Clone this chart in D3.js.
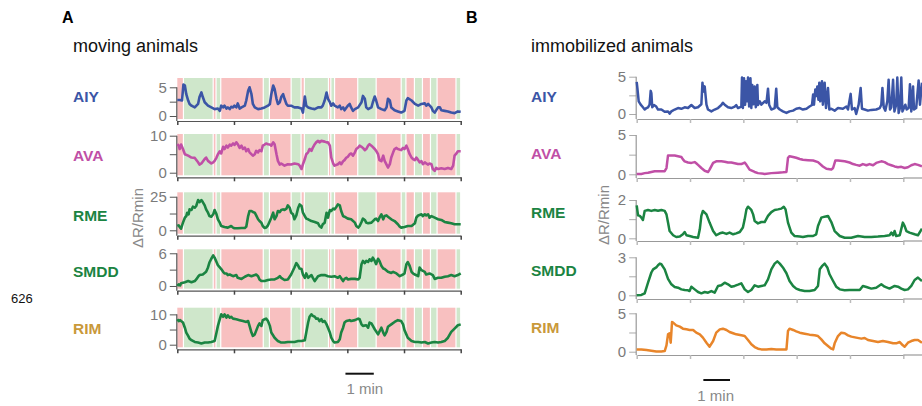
<!DOCTYPE html>
<html>
<head>
<meta charset="utf-8">
<script src="https://cdn.jsdelivr.net/npm/d3@7"></script>
<style>
body { margin: 0; background: #fff; }
text { font-family: "Liberation Sans", Arial, Helvetica, sans-serif; }
</style>
</head>
<body>
<script>
// neurons, one row each
var neurons = ['AIY', 'AVA', 'RME', 'SMDD', 'RIM'];

// y ticks per row (only first and last are labelled)
var yTicksA = [[0, 2.5, 5], [0, 5, 10], [0, 12.5, 25], [0, 3, 6], [0, 5, 10]];
var yTicksB = [[0, 2.5, 5], [0, 2.5, 5], [0, 1, 2], [0, 1.5, 3], [0, 2.5, 5]];

// time ticks (s), every 2 min
var timeTicks = [0, 120, 240, 360, 480, 600];

// behaviour of the moving animal: start time (s) and state, pink = rev, green = fwd
var stateStart = [0, 13, 76, 82, 92, 182, 195, 241, 262, 269, 320, 325, 333, 382, 421, 474, 484, 502, 519, 536, 550, 590];
var stateType = ['rev', 'fwd', 'rev', 'fwd', 'rev', 'fwd', 'rev', 'fwd', 'rev', 'fwd', 'rev',
                 'fwd', 'rev', 'fwd', 'rev', 'fwd', 'rev', 'fwd', 'rev', 'fwd', 'rev', 'fwd'];
var stateEnd = 600;

// moving animals, [t (s), dR/Rmin]
var aiyMoving = [[0,2.8],[5,2.8],[10,2.7],[13,5.5],[16,5.3],[19,3.8],[23,2.7],[26,2.1],[30,1.8],[37,1.5],[44,2.1],[47,3.3],[51,4.1],[54,3.3],[58,2.4],[65,1.8],[72,1.5],[79,1.2],[86,1.3],[90,0.9],[93,1.8],[97,1.5],[100,1.8],[104,1.3],[107,1.5],[111,1.2],[114,1.6],[118,1.5],[121,1.8],[125,1.5],[128,2.2],[132,1.3],[136,1.5],[143,1.8],[146,2.7],[150,4.4],[153,5.0],[157,3.8],[160,2.1],[164,1.5],[171,1.2],[178,1.3],[185,1.5],[192,1.8],[196,2.1],[199,3.8],[203,5.3],[206,4.7],[210,3.0],[213,2.1],[217,2.4],[220,3.3],[224,3.8],[227,3.0],[231,2.1],[234,1.8],[241,1.8],[248,1.5],[256,1.5],[263,1.3],[266,0.6],[270,3.4],[273,1.8],[277,1.5],[284,1.3],[291,1.2],[298,1.5],[305,1.5],[308,1.8],[312,2.7],[316,4.1],[319,3.0],[323,2.4],[326,1.8],[330,2.2],[333,1.8],[340,1.5],[344,1.8],[347,1.2],[351,1.5],[354,1.0],[361,1.8],[365,2.1],[368,1.5],[372,0.9],[376,1.2],[383,1.5],[390,2.4],[393,3.5],[397,3.0],[400,1.5],[404,1.2],[411,1.5],[414,2.4],[418,3.4],[421,2.7],[425,1.5],[432,1.2],[439,1.0],[443,1.5],[446,3.0],[450,2.7],[453,1.5],[460,1.0],[467,0.8],[474,0.6],[481,0.9],[485,2.7],[488,3.1],[496,2.7],[503,2.1],[510,1.8],[517,2.1],[524,2.2],[527,1.8],[531,2.1],[538,1.5],[541,0.9],[545,0.6],[552,1.5],[556,1.5],[559,1.0],[566,0.9],[573,0.8],[580,0.6],[587,0.5],[594,0.8],[600,0.75]];
var avaMoving = [[0,7.7],[3,7.3],[5,6.4],[8,7.6],[12,6.4],[16,5.0],[23,4.6],[30,4.1],[37,4.0],[44,2.8],[47,2.2],[51,2.5],[58,3.7],[61,4.1],[65,3.2],[72,2.5],[76,2.8],[79,3.2],[83,4.1],[86,5.0],[90,5.8],[93,5.2],[97,7.0],[100,6.4],[104,7.3],[107,6.8],[111,7.6],[114,7.3],[118,7.9],[121,7.5],[125,8.2],[128,7.7],[132,6.7],[136,7.3],[139,6.4],[143,6.8],[146,5.8],[150,6.4],[153,5.5],[160,4.6],[164,5.0],[167,5.9],[171,5.5],[174,6.1],[178,5.8],[181,7.3],[185,7.6],[188,7.9],[192,7.7],[196,7.6],[199,7.3],[203,8.2],[206,7.7],[210,5.0],[213,3.2],[217,2.2],[220,2.5],[227,1.9],[234,2.3],[241,2.2],[248,2.5],[256,2.3],[259,1.9],[263,1.0],[266,2.3],[270,3.7],[273,5.0],[277,5.5],[280,6.4],[284,5.9],[287,6.8],[291,7.7],[294,8.2],[298,8.6],[301,8.2],[305,8.6],[312,8.4],[316,8.2],[319,8.2],[323,7.3],[326,4.1],[330,2.5],[333,1.9],[340,2.3],[344,2.8],[347,2.3],[351,3.1],[354,3.4],[358,4.1],[361,4.3],[365,5.0],[368,5.2],[372,4.6],[376,5.5],[379,6.4],[383,6.8],[386,7.3],[390,7.0],[393,6.7],[397,6.1],[400,6.4],[404,7.3],[407,7.7],[411,7.3],[418,6.4],[421,5.9],[425,5.0],[428,3.4],[432,3.1],[436,4.6],[439,3.2],[443,2.2],[446,1.4],[450,2.3],[453,4.1],[457,5.5],[460,6.4],[464,6.7],[467,6.4],[474,6.1],[478,6.7],[481,6.4],[485,7.3],[488,6.4],[492,5.0],[496,4.1],[499,3.7],[503,3.4],[506,4.1],[510,3.4],[513,2.8],[517,3.1],[520,2.3],[524,2.8],[527,2.5],[531,2.2],[534,2.5],[538,2.3],[541,1.0],[545,0.5],[548,1.3],[552,1.0],[559,1.2],[566,1.0],[573,1.3],[580,1.0],[584,1.9],[587,4.6],[591,5.2],[594,5.8],[600,5.8]];
var rmeMoving = [[0,3.2],[3,3.7],[6,2.0],[8,1.2],[12,5.7],[16,9.4],[19,10.6],[21,13.1],[24,11.9],[26,15.6],[30,15.1],[33,17.6],[37,16.8],[40,18.1],[44,22.5],[47,21.0],[51,22.5],[54,21.0],[58,18.6],[61,15.6],[65,13.1],[68,10.6],[72,10.1],[76,11.9],[79,15.1],[83,11.9],[86,8.2],[90,5.7],[93,3.2],[100,2.5],[107,2.0],[114,3.2],[118,2.0],[121,1.5],[128,1.5],[136,1.7],[143,1.7],[146,2.7],[150,10.6],[153,14.4],[157,14.4],[160,13.6],[164,13.1],[167,11.1],[171,8.2],[174,6.9],[178,5.7],[181,3.2],[185,1.7],[188,2.0],[192,3.7],[196,6.9],[199,9.4],[203,13.1],[206,8.2],[210,10.6],[213,14.4],[217,13.6],[220,15.1],[224,15.6],[227,15.1],[231,16.1],[234,18.6],[238,16.8],[241,13.1],[245,11.9],[248,8.2],[252,11.1],[256,16.8],[259,19.3],[263,18.1],[266,13.1],[270,10.6],[273,8.7],[277,8.2],[284,6.9],[291,6.2],[298,5.2],[301,3.2],[305,2.0],[308,4.5],[312,5.7],[316,13.1],[319,9.4],[323,15.1],[326,14.4],[330,16.1],[333,15.6],[337,17.6],[340,19.3],[344,18.6],[347,14.4],[351,10.6],[354,10.1],[361,8.7],[368,8.2],[376,5.7],[379,3.2],[383,2.0],[386,3.2],[390,6.2],[393,8.7],[397,7.7],[400,5.7],[404,5.2],[411,5.7],[418,8.2],[421,8.7],[425,6.9],[428,9.4],[432,11.9],[436,8.2],[439,10.6],[443,11.1],[446,10.1],[453,8.2],[460,6.9],[467,4.5],[471,2.7],[474,2.0],[481,2.5],[488,3.2],[496,3.2],[503,5.2],[506,9.4],[510,11.1],[517,11.9],[520,10.6],[524,11.9],[527,11.1],[531,11.9],[534,9.4],[538,10.6],[545,9.4],[552,8.2],[559,7.7],[566,6.2],[573,5.7],[580,5.2],[587,4.5],[594,4.5],[600,4.5]];
var smddMoving = [[0,0.0],[3,0.3],[6,0.1],[8,0.5],[16,0.7],[23,0.9],[30,0.7],[37,0.9],[40,1.2],[44,1.7],[47,2.0],[54,2.1],[61,2.6],[65,3.4],[68,4.3],[72,5.0],[76,5.6],[79,5.2],[83,4.4],[86,3.8],[90,3.4],[93,3.1],[97,2.6],[100,2.3],[104,2.3],[107,2.0],[111,2.1],[118,1.8],[125,2.0],[128,1.5],[136,1.3],[143,1.7],[150,2.0],[157,1.8],[164,2.0],[167,2.1],[171,1.8],[174,1.2],[178,0.9],[185,0.9],[192,1.1],[199,1.2],[206,1.2],[213,1.5],[217,1.8],[220,1.5],[227,1.1],[234,1.2],[241,2.1],[248,3.4],[252,4.2],[256,3.7],[259,3.2],[263,3.1],[266,2.1],[270,1.5],[273,2.3],[277,1.5],[284,2.0],[287,1.5],[291,0.9],[298,1.8],[305,2.0],[312,2.0],[319,1.8],[326,1.7],[333,1.8],[340,1.5],[344,1.8],[351,0.9],[354,1.3],[358,1.5],[361,1.2],[368,1.3],[376,1.3],[383,1.2],[386,1.5],[390,4.0],[393,4.6],[397,4.2],[400,4.6],[404,4.4],[407,4.9],[411,4.6],[414,5.2],[418,4.6],[421,4.0],[425,5.0],[428,4.6],[432,3.7],[436,3.2],[439,3.1],[446,2.6],[453,2.4],[457,2.6],[464,2.3],[471,1.8],[478,2.1],[481,2.3],[485,4.0],[488,4.4],[492,3.7],[496,2.6],[499,2.3],[503,2.1],[510,1.8],[513,3.4],[517,2.9],[524,2.6],[527,2.1],[534,2.3],[541,2.0],[545,1.3],[552,1.5],[559,1.5],[566,1.7],[573,1.8],[580,2.0],[587,1.8],[594,2.0],[600,2.3]];
var rimMoving = [[0,8.4],[3,7.8],[6,8.1],[8,7.8],[12,7.3],[16,5.6],[19,4.0],[23,2.9],[26,2.0],[30,1.5],[37,0.9],[44,0.7],[51,0.4],[58,0.7],[65,0.7],[72,0.9],[79,1.2],[83,4.0],[86,6.2],[90,8.4],[93,10.0],[97,9.2],[100,10.0],[104,8.9],[107,9.7],[111,8.9],[114,9.2],[118,8.6],[125,8.4],[132,8.1],[139,7.8],[146,7.5],[150,7.8],[153,6.2],[157,4.0],[160,2.9],[164,3.4],[171,6.2],[174,7.0],[178,6.2],[181,8.1],[185,8.4],[188,8.6],[192,7.8],[196,6.2],[199,4.0],[206,2.3],[213,1.2],[220,0.7],[227,0.7],[234,0.9],[241,0.9],[248,0.9],[256,1.2],[263,1.2],[270,1.5],[273,4.0],[277,7.3],[280,9.2],[284,10.0],[287,9.5],[291,9.2],[294,8.6],[298,8.6],[301,7.8],[305,8.4],[308,7.5],[312,7.8],[316,6.7],[319,5.6],[323,4.0],[326,2.3],[330,1.2],[333,0.7],[340,0.9],[344,1.8],[347,4.0],[351,5.6],[354,7.3],[358,7.8],[365,8.1],[368,7.8],[376,8.1],[383,8.6],[386,8.4],[390,6.7],[393,6.2],[400,6.4],[404,5.6],[407,7.3],[411,7.0],[418,5.1],[425,3.4],[432,5.6],[436,4.0],[439,3.1],[443,4.2],[446,5.9],[453,6.7],[460,7.5],[467,8.1],[474,7.8],[478,6.7],[481,4.8],[488,2.3],[496,1.2],[503,0.9],[510,0.9],[517,0.7],[524,0.9],[531,0.4],[538,0.7],[545,0.9],[552,0.7],[559,0.9],[566,1.2],[573,2.3],[580,4.2],[587,5.3],[594,6.4],[600,6.7]];

// immobilized animals, [t (s), dR/Rmin]
var aiyImmob = [[0,4.3],[1.5,3.5],[4.5,1.7],[9,1.25],[14,0.9],[18,0.6],[22,0.8],[25.5,0.9],[29,1.25],[31.5,3.1],[33,2.8],[35,0.9],[39,1.2],[44,1.0],[48,0.6],[55.5,0.6],[63,0.3],[70.5,0.35],[74,0.05],[78,0.35],[85.5,0.6],[93,0.8],[100.5,0.7],[108,0.9],[115.5,0.8],[123,1.2],[130.5,0.8],[138,0.9],[145.5,1.3],[148,4.2],[150,3.0],[153,3.7],[157,1.25],[160.5,0.6],[168,0.35],[175.5,0.6],[183,0.8],[190.5,1.2],[194,1.5],[198,1.25],[205.5,0.9],[213,0.8],[220.5,1.0],[224,1.2],[228,0.8],[235.5,1.0],[237,4.9],[239,0.8],[241.5,4.8],[244,1.25],[246,4.4],[248,1.7],[250.5,4.9],[253,1.0],[256,4.8],[258,0.8],[260,3.9],[262.5,1.3],[265.5,3.7],[268,0.9],[271.5,3.9],[273,1.2],[277,1.7],[280.5,1.25],[288,1.7],[292,1.5],[295.5,3.4],[298,1.25],[303,0.6],[310.5,0.8],[314,3.4],[316.5,0.9],[322,0.6],[329,0.35],[337,0.15],[344,0.35],[352,0.45],[359,0.7],[367,0.8],[374,0.6],[382,0.7],[389,1.0],[394.5,1.2],[397,2.6],[399,1.25],[402,3.3],[404,2.4],[406.5,3.7],[409,1.9],[411,4.2],[413,1.7],[417,4.4],[419,1.25],[423,4.2],[426,0.8],[430.5,3.5],[433.5,0.6],[438,0.7],[445.5,0.45],[453,0.8],[464,0.7],[472,1.0],[475.5,0.6],[481.5,2.7],[484.5,0.6],[490.5,0.8],[494,0.0],[499.5,1.25],[504,3.5],[507,0.7],[513,0.6],[520.5,0.45],[528,0.55],[539,0.6],[547,0.8],[550.5,1.25],[553,3.5],[556,0.9],[559.5,0.45],[564,1.7],[567,4.6],[570,0.6],[573,0.9],[577,4.6],[580,0.35],[584,1.25],[586.5,4.9],[589.5,0.15],[592.5,0.8],[595.5,4.9],[598,0.35],[601.5,0.8],[604.5,1.25],[607.5,0.6],[612,0.8],[615,4.0],[618,0.35],[622,3.7],[624,0.6],[629,0.8],[634.5,4.5],[637.5,1.25],[642,4.2]];
var avaImmob = [[0,0.05],[10.5,0.05],[18,0.15],[25.5,0.2],[33,0.3],[40.5,0.4],[48,0.4],[55.5,0.4],[63,0.4],[67,0.8],[70.5,2.4],[78,2.4],[85.5,2.4],[93,2.3],[100.5,2.2],[104,1.9],[108,1.65],[115.5,1.5],[123,1.45],[130.5,1.55],[134,1.4],[138,1.2],[145.5,0.8],[153,0.45],[160.5,0.3],[164,0.6],[172,1.45],[179,1.65],[190.5,1.65],[198,1.6],[205.5,1.5],[213,1.5],[220.5,1.4],[228,1.3],[235.5,1.3],[243,1.5],[247,1.2],[254,0.6],[265.5,0.3],[273,0.15],[288,0.05],[303,0.15],[318,0.2],[329,0.25],[337,0.3],[340.5,2.1],[344,2.3],[352,2.2],[359,2.1],[367,1.95],[374,1.85],[385.5,1.8],[397,1.75],[408,1.55],[419,1.0],[427,0.7],[438,0.6],[442,0.8],[447,1.75],[453,1.75],[468,1.65],[479,1.5],[487,1.3],[494,1.2],[502,1.1],[509,1.3],[517,1.15],[524,1.3],[532,1.15],[539,1.45],[550.5,1.65],[558,1.55],[565.5,1.3],[573,1.15],[580.5,1.0],[588,0.9],[595.5,0.95],[603,0.8],[610.5,0.9],[618,1.15],[625.5,1.3],[633,1.2],[642,1.0]];
var rmeImmob = [[0,1.72],[3,1.2],[7,1.17],[10.5,1.08],[14,0.96],[18,1.43],[25.5,1.48],[33,1.43],[40.5,1.48],[48,1.44],[55.5,1.48],[63,1.43],[67,1.25],[70.5,0.82],[74,0.38],[82,0.16],[89,0.07],[97,0.09],[104,0.21],[108,0.33],[112,0.16],[119,0.12],[127,0.07],[138,0.03],[142,0.47],[145.5,1.17],[149,1.43],[157,1.25],[164,0.82],[172,0.38],[179,0.16],[187,0.26],[194,0.3],[202,0.23],[209,0.3],[217,0.21],[224,0.26],[232,0.33],[239,0.56],[243,0.99],[247,1.51],[250.5,1.65],[258,1.48],[262,1.25],[265.5,0.9],[273,0.78],[280.5,0.85],[288,0.85],[295.5,1.17],[303,1.37],[310.5,1.48],[318,1.51],[325.5,1.55],[331,1.65],[335,1.51],[340.5,0.82],[348,0.3],[355.5,0.12],[367,0.09],[374,0.07],[385.5,0.12],[397,0.12],[404,0.21],[408,0.64],[415.5,1.08],[423,1.13],[430.5,1.17],[438,0.85],[445.5,0.38],[457,0.12],[468,0.03],[483,0.03],[498,0.12],[513,0.07],[528,0.07],[543,0.09],[558,0.12],[569,0.16],[573,0.3],[577,0.16],[580.5,0.38],[584,0.12],[592,0.16],[599,0.82],[603,0.64],[607,0.38],[614,0.3],[625.5,0.21],[633,0.16],[642,0.5]];
var smddImmob = [[0,0.0],[10.5,0.03],[18,0.16],[25.5,1.0],[33,1.8],[37,2.05],[44,2.2],[48,2.37],[52,2.5],[55.5,2.45],[63,2.05],[70.5,1.3],[78,0.87],[85.5,0.66],[93,0.6],[100.5,0.47],[108,0.42],[115.5,0.4],[119,0.34],[123,0.68],[130.5,0.47],[138,0.26],[145.5,0.16],[153,0.26],[160.5,0.21],[168,0.34],[175.5,0.21],[183,0.74],[190.5,0.79],[198,1.0],[205.5,0.87],[213,0.68],[220.5,0.74],[228,0.84],[235.5,0.95],[243,0.47],[250.5,0.26],[258,0.42],[265.5,0.79],[273,0.68],[280.5,0.74],[288,0.79],[295.5,1.26],[303,2.05],[310.5,2.5],[316.5,2.68],[322,2.5],[329,2.2],[337,1.74],[344,1.13],[352,0.74],[359,0.53],[367,0.42],[378,0.34],[389,0.34],[400.5,0.42],[408,0.74],[412,2.05],[417,2.3],[423,2.5],[429,2.2],[434,1.66],[442,1.13],[449,0.68],[457,0.47],[468,0.4],[479,0.42],[490.5,0.42],[502,0.42],[509,0.74],[517,0.66],[528,0.53],[539,0.6],[550.5,0.87],[558,0.68],[569,0.53],[580.5,0.74],[588,0.68],[595.5,0.53],[603,0.42],[610.5,0.47],[618,0.74],[625.5,1.21],[633,1.4],[642,1.13]];
var rimImmob = [[0,0.3],[10.5,0.3],[22,0.22],[33,0.13],[44,0.04],[55.5,0.04],[63,0.09],[67,0.83],[70.5,2.26],[74,2.4],[76.5,1.17],[78,2.48],[79.5,3.87],[82,3.78],[89,3.43],[97,3.26],[104,3.0],[112,2.91],[119,2.83],[127,2.83],[134,2.48],[142,2.26],[149,1.83],[157,1.17],[164,0.65],[172,1.39],[179,2.48],[187,2.91],[194,3.0],[202,2.83],[209,2.57],[217,2.4],[224,2.26],[235.5,2.13],[243,2.04],[250.5,1.52],[258,0.96],[265.5,0.61],[273,0.39],[280.5,0.3],[292,0.3],[303,0.35],[314,0.3],[325.5,0.3],[337,0.3],[340.5,2.7],[344,3.0],[352,2.83],[359,2.65],[367,2.48],[378,2.35],[389,2.22],[400.5,2.13],[408,2.04],[415.5,1.61],[423,1.09],[430.5,0.74],[438,0.39],[442,0.3],[445.5,1.09],[453,2.04],[460.5,2.48],[468,2.4],[475.5,2.13],[483,1.96],[494,1.83],[505.5,1.7],[513,1.78],[520.5,1.52],[532,1.39],[543,1.26],[554,1.39],[565.5,1.26],[577,1.09],[584,1.09],[592,1.26],[599,0.83],[603,0.65],[610.5,1.17],[618,1.39],[625.5,1.52],[633,1.52],[642,1.17]];

var tracesA = [aiyMoving, avaMoving, rmeMoving, smddMoving, rimMoving];
var tracesB = [aiyImmob, avaImmob, rmeImmob, smddImmob, rimImmob];

// ---- styles / layout ----
var labelColors = ['#3b55a6', '#c04fa6', '#1b8442', '#1b8442', '#c9993a'];
var lineColorsA = ['#3b55a6', '#c04fa6', '#1b8442', '#1b8442', '#1b8442'];
var lineColorsB = ['#3b55a6', '#c04fa6', '#1b8442', '#1b8442', '#e8852a'];
var bandColor = { rev: '#f8c0c0', fwd: '#cfe7cb' };

var rowTopA = [78, 134, 192.3, 249.3, 307.7];
var rowBotA = [119, 175.3, 233.7, 288.7, 347.3];
var yDomA = [[-0.52, 6.62], [-0.7, 10.46], [-2.53, 28.3], [-0.5, 6.73], [-0.86, 12.2]];
var rowTopB = [76.7, 135, 200, 257.3, 313.3];
var rowBotB = [119, 178, 241, 299, 355];
var yDomB = [[-0.67, 5], [-0.47, 5], [-0.14, 2], [-0.29, 3], [-0.43, 5]];
var labelYA = [102, 161, 221, 277, 334];
var labelYB = [102, 159, 218, 276, 333];

var svg = d3.select('body').append('svg')
    .attr('width', 922)
    .attr('height', 406);

var xA = d3.scaleLinear().domain([0, 600]).range([177.3, 460.7]);
var xB = d3.scaleLinear().domain([0, 600]).range([636.7, 903.3]);

// panel titles
svg.append('text').attr('x', 62).attr('y', 23).attr('font-size', 16).attr('font-weight', 'bold').text('A');
svg.append('text').attr('x', 466).attr('y', 23).attr('font-size', 16).attr('font-weight', 'bold').text('B');
svg.append('text').attr('x', 73).attr('y', 52).attr('font-size', 18).attr('fill', '#111').text('moving animals');
svg.append('text').attr('x', 531).attr('y', 52).attr('font-size', 18).attr('fill', '#111').text('immobilized animals');
svg.append('text').attr('x', 11).attr('y', 303).attr('font-size', 13).attr('fill', '#111').text('626');

function drawRow(x, y, axisY, data, color, ticks, tickColor, spineColor, xTickColor, lw) {
    // y axis
    var ya = svg.append('g')
        .attr('transform', 'translate(' + (x.range()[0] - 0.5) + ',0)')
        .call(d3.axisLeft(y).tickValues(ticks).tickSize(7).tickPadding(3)
            .tickFormat(function(d, j) { return (j === 0 || j === ticks.length - 1) ? d : ''; }));
    ya.select('.domain').remove();
    ya.selectAll('line').attr('stroke', tickColor);
    ya.selectAll('text').attr('fill', '#7a7a7a').attr('font-size', 15)
        .attr('font-family', '"Liberation Sans", Arial, sans-serif');
    svg.append('line')
        .attr('x1', x.range()[0] - 0.5).attr('x2', x.range()[0] - 0.5)
        .attr('y1', y(ticks[ticks.length - 1])).attr('y2', axisY)
        .attr('stroke', spineColor).attr('stroke-width', 1.2);

    // x axis
    var xa = svg.append('g')
        .attr('transform', 'translate(0,' + axisY + ')')
        .call(d3.axisBottom(x).tickValues(timeTicks).tickSize(4).tickSizeOuter(0).tickFormat(''));
    xa.select('.domain').attr('stroke', spineColor).attr('stroke-width', 1.2);
    xa.selectAll('.tick line').attr('stroke', xTickColor).attr('stroke-width', 1.5);

    var line = d3.line()
        .x(function(d) { return x(d[0]); })
        .y(function(d) { return y(d[1]); });
    svg.append('path')
        .datum(data)
        .attr('d', line)
        .attr('fill', 'none')
        .attr('stroke', color)
        .attr('stroke-width', lw)
        .attr('stroke-linejoin', 'round');
}

// panel A: moving animals with behaviour bands
neurons.forEach(function(name, i) {
    var y = d3.scaleLinear().domain(yDomA[i]).range([rowBotA[i], rowTopA[i]]);
    stateStart.forEach(function(s, k) {
        var e = k < stateStart.length - 1 ? stateStart[k + 1] : stateEnd;
        svg.append('rect')
            .attr('x', xA(s) + (k === 0 ? 0 : 0.6))
            .attr('y', rowTopA[i])
            .attr('width', Math.max(0.5, xA(e) - xA(s) - (k === 0 ? 0.6 : 1.2)))
            .attr('height', rowBotA[i] - rowTopA[i])
            .attr('fill', bandColor[stateType[k]]);
    });
    drawRow(xA, y, rowBotA[i] + 2, tracesA[i], lineColorsA[i], yTicksA[i],
        '#555', '#555', '#444', 2.6);
    svg.append('text').attr('x', 73).attr('y', labelYA[i])
        .attr('font-size', 15.5).attr('font-weight', 'bold')
        .attr('fill', labelColors[i]).text(name);
});

// panel B: immobilized animals
neurons.forEach(function(name, i) {
    var y = d3.scaleLinear().domain(yDomB[i]).range([rowBotB[i], rowTopB[i]]);
    drawRow(xB, y, rowBotB[i], tracesB[i], lineColorsB[i], yTicksB[i],
        '#aaa', '#999', '#bbb', 2.5);
    svg.append('line')
        .attr('x1', xB(600)).attr('x2', 922)
        .attr('y1', rowBotB[i]).attr('y2', rowBotB[i])
        .attr('stroke', '#999').attr('stroke-width', 1.2);
    svg.append('text').attr('x', 531).attr('y', labelYB[i])
        .attr('font-size', 15.5).attr('font-weight', 'bold')
        .attr('fill', labelColors[i]).text(name);
});

// y titles
svg.append('text')
    .attr('transform', 'translate(138,218) rotate(-90)')
    .attr('text-anchor', 'middle').attr('dy', '0.35em')
    .attr('font-size', 15).attr('fill', '#888')
    .text('\u0394R/Rmin');
svg.append('text')
    .attr('transform', 'translate(604,215) rotate(-90)')
    .attr('text-anchor', 'middle').attr('dy', '0.35em')
    .attr('font-size', 15).attr('fill', '#888')
    .text('\u0394R/Rmin');

// scale bars, 1 min
svg.append('line')
    .attr('x1', xA(356)).attr('x2', xA(416))
    .attr('y1', 373.7).attr('y2', 373.7)
    .attr('stroke', '#111').attr('stroke-width', 2);
svg.append('text').attr('x', xA(356) + 1).attr('y', 394)
    .attr('font-size', 15).attr('fill', '#888').text('1 min');
svg.append('line')
    .attr('x1', xB(150)).attr('x2', xB(210))
    .attr('y1', 380).attr('y2', 380)
    .attr('stroke', '#111').attr('stroke-width', 2);
svg.append('text').attr('x', xB(180) - 1).attr('y', 400.5)
    .attr('text-anchor', 'middle')
    .attr('font-size', 15).attr('fill', '#888').text('1 min');
</script>
</body>
</html>
